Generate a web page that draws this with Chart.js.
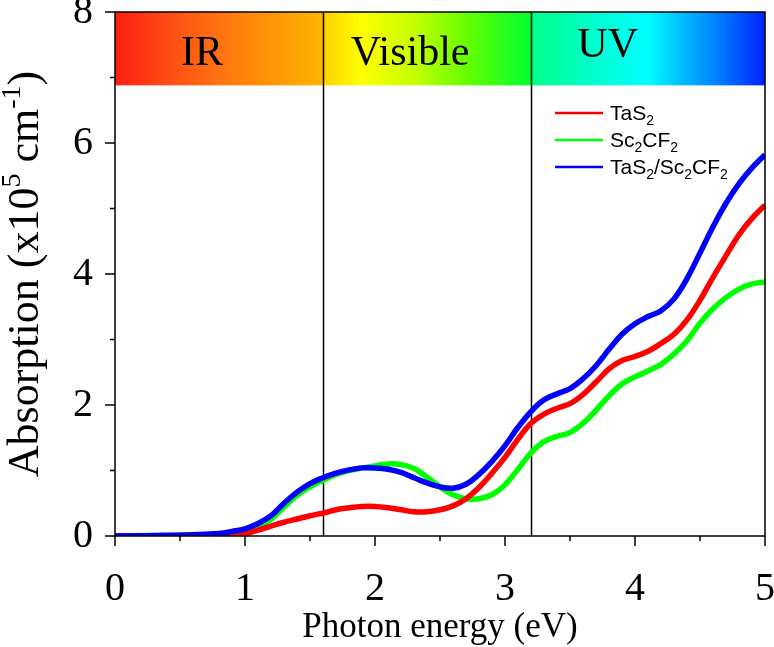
<!DOCTYPE html>
<html>
<head>
<meta charset="utf-8">
<title>Absorption spectra</title>
<script src="https://cdn.jsdelivr.net/npm/chart.js@4.4.1/dist/chart.umd.min.js"></script>
<style>
	html, body { margin: 0; padding: 0; background: #fff; }
	#wrap { width: 774px; height: 647px; }
</style>
</head>
<body>
<div id="wrap"><canvas id="absChart" width="774" height="647"></canvas></div>
<script>
// --- data ---
const energy = [0, 0.2, 0.4, 0.6, 0.8, 0.9, 1.0, 1.1, 1.2, 1.3, 1.4, 1.5, 1.6, 1.7, 1.8, 1.9,
	2.0, 2.1, 2.2, 2.3, 2.4, 2.5, 2.6, 2.7, 2.8, 2.9, 3.0, 3.1, 3.2, 3.3, 3.4, 3.5, 3.6, 3.7,
	3.8, 3.9, 4.0, 4.1, 4.2, 4.3, 4.4, 4.5, 4.6, 4.7, 4.8, 4.9, 5.0];

const tas2 = [0, 0.002, 0.005, 0.01, 0.015, 0.02, 0.04, 0.09, 0.15, 0.21, 0.26, 0.31, 0.35, 0.40, 0.43, 0.45,
	0.45, 0.43, 0.40, 0.37, 0.37, 0.40, 0.46, 0.57, 0.74, 0.96, 1.20, 1.48, 1.72, 1.86, 1.95, 2.02, 2.16, 2.35,
	2.55, 2.68, 2.74, 2.82, 2.94, 3.08, 3.30, 3.60, 3.95, 4.28, 4.60, 4.85, 5.05];

const sc2cf2 = [0, 0.002, 0.005, 0.01, 0.02, 0.03, 0.06, 0.13, 0.26, 0.44, 0.62, 0.75, 0.85, 0.94, 1.00, 1.04,
	1.07, 1.10, 1.09, 1.03, 0.90, 0.75, 0.63, 0.57, 0.57, 0.63, 0.78, 1.02, 1.27, 1.44, 1.52, 1.58, 1.72, 1.92,
	2.14, 2.32, 2.43, 2.52, 2.62, 2.78, 2.98, 3.25, 3.47, 3.64, 3.77, 3.85, 3.88];

const hetero = [0, 0.005, 0.01, 0.02, 0.04, 0.07, 0.11, 0.19, 0.31, 0.50, 0.67, 0.80, 0.89, 0.96, 1.01, 1.04,
	1.04, 1.02, 0.97, 0.89, 0.81, 0.75, 0.73, 0.79, 0.94, 1.14, 1.38, 1.66, 1.90, 2.08, 2.17, 2.25, 2.40, 2.60,
	2.85, 3.08, 3.24, 3.35, 3.44, 3.62, 3.93, 4.32, 4.72, 5.08, 5.38, 5.62, 5.82];

const seriesLabels = ['TaS2', 'Sc2CF2', 'TaS2/Sc2CF2'];
const regionNames = ['IR', 'Visible', 'UV'];
const regionEdges = [1.6, 3.2];

const SERIF = '"Liberation Serif", "Times New Roman", serif';
const SANS = '"Liberation Sans", Arial, sans-serif';

function toPoints(values) {
	return energy.map((e, i) => ({ x: e, y: values[i] }));
}

// draws a run of text where digits go down as subscripts
function drawSubscripted(ctx, text, x, y, size) {
	const runs = text.match(/\d+|\D+/g);
	runs.forEach(run => {
		const isSub = /^\d+$/.test(run);
		ctx.font = (isSub ? Math.round(size * 0.68) : size) + 'px ' + SANS;
		ctx.fillText(run, x, isSub ? y + size * 0.26 : y);
		x += ctx.measureText(run).width;
	});
}

const decorPlugin = {
	id: 'decor',
	beforeDatasetsDraw(chart) {
		const { ctx, scales: { x, y } } = chart;
		const x0 = x.getPixelForValue(0), x1 = x.getPixelForValue(5);
		const yTop = y.getPixelForValue(8), yBot = y.getPixelForValue(6.88);
		const span = x1 - x0;

		// spectrum band along the top
		const g = ctx.createLinearGradient(x0, 0, x1, 0);
		const stops = [
			[0, '#ff1e12'], [0.5, '#ff5514'], [1.0, '#ff850c'], [1.45, '#ffa800'], [1.599, '#ffb400'],
			[1.601, '#ffd000'], [1.9, '#ffff00'], [2.3, '#c4ff00'], [2.7, '#66ff00'], [3.199, '#00ff30'],
			[3.201, '#00ff88'], [3.7, '#00ffd0'], [4.1, '#00ffff'], [4.4, '#00b4ff'], [4.7, '#0070ff'], [5, '#0022ff']
		];
		stops.forEach(s => g.addColorStop(s[0] / 5, s[1]));
		ctx.save();
		ctx.fillStyle = g;
		ctx.fillRect(x0, yTop, span, yBot - yTop);

		ctx.fillStyle = '#000';
		ctx.textAlign = 'center';
		ctx.textBaseline = 'alphabetic';
		ctx.font = '42px ' + SERIF;
		ctx.fillText(regionNames[0], x.getPixelForValue(0.67), y.getPixelForValue(7.19));
		ctx.fillText(regionNames[1], x.getPixelForValue(2.27), y.getPixelForValue(7.19));
		ctx.fillText(regionNames[2], x.getPixelForValue(3.79), y.getPixelForValue(7.31));

		// region separators
		ctx.strokeStyle = '#000';
		ctx.lineWidth = 1.5;
		regionEdges.forEach(v => {
			const px = Math.round(x.getPixelForValue(v)) + 0.5;
			ctx.beginPath();
			ctx.moveTo(px, y.getPixelForValue(8));
			ctx.lineTo(px, y.getPixelForValue(0));
			ctx.stroke();
		});
		ctx.restore();
	},
	afterDraw(chart) {
		const { ctx, chartArea: a, scales: { x, y } } = chart;
		ctx.save();
		ctx.strokeStyle = '#000';
		ctx.lineWidth = 1.5;
		ctx.strokeRect(a.left, a.top, a.right - a.left, a.bottom - a.top);

		// major + minor ticks, outward
		ctx.beginPath();
		for (let v = 0; v <= 5.001; v += 0.5) {
			const px = x.getPixelForValue(v);
			const len = Math.abs(v - Math.round(v)) < 1e-6 ? 10 : 5;
			ctx.moveTo(px, a.bottom);
			ctx.lineTo(px, a.bottom + len);
		}
		for (let v = 0; v <= 8; v += 1) {
			const py = y.getPixelForValue(v);
			const len = v % 2 === 0 ? 10 : 5;
			ctx.moveTo(a.left, py);
			ctx.lineTo(a.left - len, py);
		}
		ctx.stroke();

		// axis titles
		ctx.fillStyle = '#000';
		ctx.textAlign = 'center';
		ctx.textBaseline = 'alphabetic';
		ctx.font = '35px ' + SERIF;
		ctx.fillText('Photon energy (eV)', (a.left + a.right) / 2, 637);

		const parts = [
			{ t: 'Absorption (x10', sup: false },
			{ t: '5', sup: true },
			{ t: ' cm', sup: false },
			{ t: '-1', sup: true },
			{ t: ')', sup: false }
		];
		const big = 44, small = 28;
		let total = 0;
		parts.forEach(p => {
			ctx.font = (p.sup ? small : big) + 'px ' + SERIF;
			p.w = ctx.measureText(p.t).width;
			total += p.w;
		});
		ctx.translate(38, (a.top + a.bottom) / 2);
		ctx.rotate(-Math.PI / 2);
		ctx.textAlign = 'left';
		let cx = -total / 2;
		parts.forEach(p => {
			ctx.font = (p.sup ? small : big) + 'px ' + SERIF;
			ctx.fillText(p.t, cx, p.sup ? -big * 0.4 : 0);
			cx += p.w;
		});
		ctx.restore();

		// legend with subscripts
		ctx.save();
		ctx.textAlign = 'left';
		ctx.textBaseline = 'alphabetic';
		ctx.fillStyle = '#000';
		chart.data.datasets.forEach((ds, i) => {
			const ly = 113 + i * 27;
			ctx.strokeStyle = ds.borderColor;
			ctx.lineWidth = 2.5;
			ctx.beginPath();
			ctx.moveTo(555, ly);
			ctx.lineTo(603, ly);
			ctx.stroke();
			drawSubscripted(ctx, ds.label, 610, ly + 7, 21);
		});
		ctx.restore();
	}
};

const chart = new Chart(document.getElementById('absChart'), {
	type: 'line',
	data: {
		datasets: [
			{ label: seriesLabels[0], data: toPoints(tas2), borderColor: '#ff0000', order: 1 },
			{ label: seriesLabels[1], data: toPoints(sc2cf2), borderColor: '#00ff00', order: 2 },
			{ label: seriesLabels[2], data: toPoints(hetero), borderColor: '#0000ff', order: 0 }
		].map(ds => Object.assign(ds, {
			borderWidth: 5.5,
			pointRadius: 0,
			fill: false,
			tension: 0.4
		}))
	},
	options: {
		responsive: false,
		animation: false,
		layout: { padding: { top: 12, right: 9, left: 0, bottom: 0 } },
		plugins: {
			legend: { display: false },
			tooltip: { enabled: false }
		},
		scales: {
			x: {
				type: 'linear',
				min: 0,
				max: 5,
				grid: { display: false },
				border: { display: false },
				ticks: {
					stepSize: 1,
					maxRotation: 0,
					padding: 21,
					color: '#000',
					font: { family: SERIF, size: 40 }
				},
				afterFit(scale) {
					scale.height = 111;
					scale.paddingLeft = 0;
					scale.paddingRight = 0;
				}
			},
			y: {
				min: 0,
				max: 8,
				grid: { display: false },
				border: { display: false },
				ticks: {
					stepSize: 2,
					padding: 14,
					color: '#000',
					font: { family: SERIF, size: 40 }
				},
				afterFit(scale) {
					scale.width = 115;
					scale.paddingTop = 0;
					scale.paddingBottom = 0;
				}
			}
		}
	},
	plugins: [decorPlugin]
});
</script>
</body>
</html>
